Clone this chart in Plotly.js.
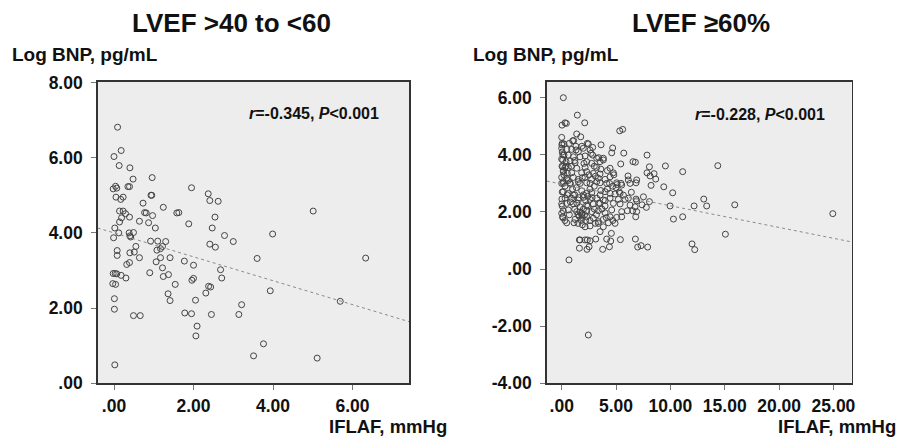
<!DOCTYPE html>
<html>
<head>
<meta charset="utf-8">
<script src="https://cdn.plot.ly/plotly-3.0.1.min.js"></script>
<style>html,body{margin:0;padding:0;background:#fff;}#chart{width:899px;height:442px;}</style>
</head>
<body>
<div id="chart"></div>
<script>
// ---------- DATA ----------
// Left panel: LVEF >40 to <60 — [IFLAF (mmHg), Log BNP (pg/mL)]
const leftPoints = [
  [0.09,6.81],[0.18,6.19],[0.00,6.03],[0.13,5.79],[0.40,5.73],[0.48,5.43],[0.96,5.47],
  [0.04,5.24],[-0.02,5.17],[0.07,5.19],[0.35,5.23],[0.39,5.23],[1.95,5.20],[2.37,5.04],
  [0.93,5.00],[0.95,5.00],[0.05,4.95],[0.23,4.95],[0.17,4.89],[2.41,4.86],[2.62,4.84],
  [0.73,4.79],[0.14,4.58],[0.23,4.58],[0.29,4.51],[0.77,4.54],[0.81,4.53],[1.24,4.68],
  [1.58,4.53],[1.63,4.54],[0.97,4.46],[0.39,4.42],[0.19,4.40],[2.54,4.42],[0.14,4.29],
  [0.64,4.31],[0.87,4.27],[1.88,4.24],[0.02,4.13],[1.04,4.13],[2.47,4.13],[0.12,4.00],
  [0.38,4.00],[0.49,4.01],[0.40,3.92],[0.42,3.89],[-0.01,3.87],[3.99,3.97],[2.78,3.93],
  [3.00,3.77],[0.92,3.78],[1.10,3.78],[1.30,3.77],[2.41,3.70],[2.55,3.62],[1.22,3.64],
  [1.17,3.58],[1.08,3.54],[0.55,3.64],[0.08,3.53],[0.40,3.47],[0.51,3.49],[0.08,3.40],
  [0.64,3.34],[1.17,3.34],[1.41,3.34],[3.60,3.32],[6.33,3.33],[1.06,3.23],[0.39,3.21],
  [0.32,3.16],[1.77,3.25],[2.00,3.14],[1.22,3.07],[2.68,3.02],[-0.02,2.92],[0.03,2.92],
  [0.07,2.91],[0.18,2.87],[0.90,2.94],[1.37,2.89],[1.24,2.84],[0.30,2.80],[2.71,2.80],
  [2.00,2.79],[1.96,2.74],[-0.03,2.65],[0.04,2.63],[1.54,2.63],[2.38,2.58],[2.43,2.56],
  [1.36,2.38],[2.31,2.40],[0.01,2.25],[1.41,2.20],[2.05,2.21],[3.93,2.46],[5.69,2.18],
  [3.21,2.09],[0.01,1.97],[0.49,1.80],[0.66,1.80],[1.78,1.87],[1.95,1.85],[2.45,1.83],
  [3.14,1.83],[2.09,1.52],[2.06,1.26],[3.76,1.05],[3.51,0.73],[5.11,0.67],[0.02,0.49],
  [5.01,4.58]
];

// Right panel: LVEF >=60% — [IFLAF (mmHg), Log BNP (pg/mL)]
const rightPoints = [
  [0.15,6.00],[1.44,5.39],[2.12,5.12],[0.31,5.12],[0.03,5.04],[0.43,5.10],[5.34,4.84],[5.61,4.89],
  [1.38,4.73],[1.75,4.63],[0.00,4.61],[2.36,4.40],[3.62,4.35],[4.69,4.24],[4.60,4.07],[5.71,4.06],
  [7.85,3.99],[6.56,3.76],[6.78,3.74],[5.43,3.68],[8.07,3.58],[9.54,3.61],[14.36,3.62],[11.13,3.41],
  [7.85,3.37],[8.50,3.34],[8.65,3.15],[6.10,3.26],[6.90,3.12],[6.84,3.02],[8.22,2.93],[9.39,2.88],
  [10.21,2.67],[6.41,2.69],[7.52,2.53],[8.07,2.36],[6.84,2.45],[13.07,2.45],[13.34,2.21],[12.18,2.21],
  [9.97,2.21],[15.92,2.25],[7.79,2.16],[7.39,2.25],[6.53,2.04],[6.81,1.83],[11.13,1.83],[10.28,1.75],
  [24.94,1.94],[15.06,1.22],[6.78,1.05],[5.40,1.03],[11.99,0.88],[12.24,0.68],[7.30,0.82],[6.99,0.77],
  [7.91,0.77],[0.67,0.32],[2.45,-2.31],[3.77,0.69],[4.39,0.78],[4.51,0.98],[4.14,1.05],[4.57,1.25],
  [3.13,1.05],[2.36,1.02],[2.33,0.69],[2.52,0.78],[1.63,0.73],[1.63,1.02],
  [1.01,4.49],[2.45,4.38],[0.21,4.38],[0.00,4.23],[0.46,4.19],[0.92,4.19],[1.32,4.17],[1.53,4.11],
  [1.99,4.23],[2.61,4.17],[2.85,4.26],[0.21,3.99],[0.61,3.99],[1.07,3.93],[1.69,3.93],[2.15,3.96],
  [2.85,3.99],[3.22,3.88],[3.83,3.88],[0.09,3.82],[0.40,3.76],[0.77,3.79],[1.23,3.72],[2.30,3.76],
  [2.76,3.70],[3.53,3.76],[3.83,3.82],[0.09,3.58],[0.61,3.56],[1.38,3.53],[2.15,3.56],[3.22,3.56],
  [4.45,3.53],[0.15,3.41],[0.52,3.35],[0.92,3.37],[1.84,3.37],[2.30,3.41],[2.91,3.35],[3.53,3.33],
  [4.75,3.37],[8.13,3.26],[0.00,3.21],[0.46,3.18],[1.07,3.21],[1.53,3.14],[2.15,3.21],[2.76,3.14],
  [3.37,3.18],[3.99,3.14],[4.45,3.23],[5.06,3.02],[5.46,3.00],[6.29,3.00],[0.15,3.00],[0.77,3.02],
  [1.69,3.00],[2.61,3.00],[3.53,3.02],
  [0.15,3.06],[0.80,2.97],[1.53,3.06],[2.30,3.02],[3.22,3.06],[4.14,3.00],[5.10,2.96],[5.52,2.94],
  [6.13,3.12],[0.15,2.71],[0.61,2.65],[1.07,2.59],[1.84,2.74],[2.30,2.65],[2.76,2.67],[3.53,2.59],
  [3.99,2.71],[4.45,2.65],[4.91,2.63],[5.37,2.65],[5.67,2.59],[0.31,2.48],[0.92,2.48],[1.53,2.42],
  [1.99,2.51],[2.61,2.44],[3.22,2.48],[3.83,2.42],[4.45,2.48],[5.21,2.44],[5.83,2.44],[6.13,2.48],
  [6.90,2.39],[0.00,2.28],[0.46,2.30],[1.07,2.28],[1.69,2.18],[2.30,2.24],[2.91,2.28],[3.53,2.30],
  [3.99,2.21],[4.75,2.30],[5.37,2.28],[6.29,2.24],[6.75,2.18],[0.15,2.04],[0.61,2.07],[1.38,2.01],
  [1.84,1.95],[2.30,2.04],[2.76,2.01],[3.37,2.04],[3.99,1.97],[4.60,2.07],[5.52,2.01],[6.04,2.04],
  [6.90,2.01],[0.09,1.83],[0.46,1.62],[1.23,1.74],[1.84,1.89],[2.30,1.83],[2.91,1.78],[3.37,1.66],
  [3.83,1.74],[4.45,1.83],[5.06,1.81],[5.52,1.83],[1.13,1.62],[2.15,1.48],[2.61,1.51],[3.37,1.60],
  [3.83,1.48],[4.29,1.62],[4.91,1.60],[3.53,1.31],[1.69,1.02],[2.15,1.02],[2.61,0.99],
  [1.50,1.90],[1.60,1.85],[1.70,2.00],[1.80,1.70],[1.90,1.80],[2.00,2.10],[2.10,1.90],[1.40,2.30],
  [1.60,2.50],[2.00,2.60],[2.20,2.40],[2.40,2.20],[0.50,2.60],[0.30,2.90],[0.60,3.10],[1.00,2.80],
  [1.20,2.60],[0.80,2.35],[2.60,2.80],[2.80,2.50],[3.00,2.10],[3.20,1.90],[3.40,2.30],[3.70,2.10],
  [4.00,2.40],[4.20,2.80],[4.40,3.00],[0.20,3.30],[0.40,3.60],[0.30,3.55],[0.10,4.00],[0.05,4.40],
  [0.15,3.45],[0.02,4.35],[0.05,4.10],[0.00,3.85],[0.03,3.60],[0.00,3.00],[0.05,2.70],[0.02,2.45],
  [0.05,2.20],[0.00,1.95],[0.10,1.80],[1.10,4.50],[1.30,4.30],[0.70,4.40],[1.85,4.30],[2.05,3.70],
  [2.50,3.30],[3.00,3.60],[3.10,3.25],[2.70,4.05],[3.40,3.90],[3.60,3.50],[4.20,3.45],[4.80,3.30],
  [5.00,2.85],[5.30,2.70],[4.70,2.90],[1.20,3.80],[0.90,3.60],[1.90,3.20],[1.20,2.10],[0.70,1.90],
  [2.60,1.70],[3.10,1.60],[4.10,1.80],[4.70,1.70],[1.50,1.60],[1.90,1.55],[2.20,1.70],[0.30,1.70],
  [2.40,2.55],[3.60,2.75],[3.00,2.90],[1.35,2.85]
];

// Dotted regression lines read at the plot edges
const leftFitX = [-0.41, 7.42];
const leftFitY = [4.13, 1.64];
const rightFitX = [-1.38, 26.68];
const rightFitY = [3.08, 0.95];

// Tick values and labels
const leftXTicks = [0, 2, 4, 6];
const leftXLabels = ['.00', '2.00', '4.00', '6.00'];
const leftYTicks = [0, 2, 4, 6, 8];
const leftYLabels = ['.00', '2.00', '4.00', '6.00', '8.00'];
const rightXTicks = [0, 5, 10, 15, 20, 25];
const rightXLabels = ['.00', '5.00', '10.00', '15.00', '20.00', '25.00'];
const rightYTicks = [-4, -2, 0, 2, 4, 6];
const rightYLabels = ['-4.00', '-2.00', '.00', '2.00', '4.00', '6.00'];

// Texts
const panelTitles = ['LVEF &gt;40 to &lt;60', 'LVEF ≥60%'];
const statTexts = ['<i>r</i>=-0.345, <i>P</i>&lt;0.001', '<i>r</i>=-0.228, <i>P</i>&lt;0.001'];
const yLabel = 'Log BNP, pg/mL';
const xLabel = 'IFLAF, mmHg';

// ---------- CHART ----------
const W = 899, H = 442;
const px = v => v / W;
const py = v => 1 - v / H;
const FONT = 'Liberation Sans, Arial, Helvetica, sans-serif';

const markerStyle = {symbol: 'circle-open', size: 6, color: '#444444', line: {width: 1}};
const fitStyle = {color: '#8a8a8a', width: 1, dash: 'dot'};

const traces = [
  {x: leftPoints.map(p => p[0]), y: leftPoints.map(p => p[1]), type: 'scatter', mode: 'markers',
   marker: markerStyle, xaxis: 'x', yaxis: 'y', hoverinfo: 'skip'},
  {x: leftFitX, y: leftFitY, type: 'scatter', mode: 'lines', line: fitStyle, xaxis: 'x', yaxis: 'y', hoverinfo: 'skip'},
  {x: rightPoints.map(p => p[0]), y: rightPoints.map(p => p[1]), type: 'scatter', mode: 'markers',
   marker: markerStyle, xaxis: 'x2', yaxis: 'y2', hoverinfo: 'skip'},
  {x: rightFitX, y: rightFitY, type: 'scatter', mode: 'lines', line: fitStyle, xaxis: 'x2', yaxis: 'y2', hoverinfo: 'skip'}
];

const axisCommon = {
  showgrid: false, zeroline: false, showline: true, mirror: true,
  linecolor: '#333', linewidth: 1.5,
  ticks: 'outside', ticklen: 5, tickcolor: '#777', tickwidth: 1,
  tickmode: 'array',
  tickfont: {family: FONT, size: 17.5, color: '#111', weight: 'bold'}
};

const yDomain = [py(383.3), py(81.7)];

const layout = {
  width: W, height: H,
  margin: {l: 0, r: 0, t: 0, b: 0},
  paper_bgcolor: '#ffffff',
  plot_bgcolor: '#ededed',
  showlegend: false,
  xaxis: Object.assign({}, axisCommon, {domain: [px(97.7), px(409)], range: [-0.41, 7.42],
    tickvals: leftXTicks, ticktext: leftXLabels, anchor: 'y', ticklabelstandoff: 1}),
  yaxis: Object.assign({}, axisCommon, {domain: yDomain, range: [0, 8.02],
    tickvals: leftYTicks, ticktext: leftYLabels, anchor: 'x', ticklabelstandoff: 5}),
  xaxis2: Object.assign({}, axisCommon, {domain: [px(546.7), px(851.7)], range: [-1.38, 26.68],
    tickvals: rightXTicks, ticktext: rightXLabels, anchor: 'y2', ticklabelstandoff: 1}),
  yaxis2: Object.assign({}, axisCommon, {domain: yDomain, range: [-4, 6.56],
    tickvals: rightYTicks, ticktext: rightYLabels, anchor: 'x2', ticklabelstandoff: 5}),
  annotations: [
    {text: panelTitles[0], x: px(231.5), y: py(23), xref: 'paper', yref: 'paper', xanchor: 'center', yanchor: 'middle',
     showarrow: false, font: {family: FONT, size: 26, color: '#111', weight: 'bold'}},
    {text: panelTitles[1], x: px(701), y: py(23), xref: 'paper', yref: 'paper', xanchor: 'center', yanchor: 'middle',
     showarrow: false, font: {family: FONT, size: 26, color: '#111', weight: 'bold'}},
    {text: yLabel, x: px(10), y: py(54), xref: 'paper', yref: 'paper', xanchor: 'left', yanchor: 'middle',
     showarrow: false, font: {family: FONT, size: 19, color: '#111', weight: 'bold'}},
    {text: yLabel, x: px(470.7), y: py(54), xref: 'paper', yref: 'paper', xanchor: 'left', yanchor: 'middle',
     showarrow: false, font: {family: FONT, size: 19, color: '#111', weight: 'bold'}},
    {text: xLabel, x: px(449), y: py(426), xref: 'paper', yref: 'paper', xanchor: 'right', yanchor: 'middle',
     showarrow: false, font: {family: FONT, size: 18.5, color: '#111', weight: 'bold'}},
    {text: xLabel, x: px(898), y: py(426), xref: 'paper', yref: 'paper', xanchor: 'right', yanchor: 'middle',
     showarrow: false, font: {family: FONT, size: 18.5, color: '#111', weight: 'bold'}},
    {text: statTexts[0], x: px(247), y: py(114), xref: 'paper', yref: 'paper', xanchor: 'left', yanchor: 'middle',
     showarrow: false, font: {family: FONT, size: 16, color: '#111', weight: 'bold'}},
    {text: statTexts[1], x: px(693), y: py(115), xref: 'paper', yref: 'paper', xanchor: 'left', yanchor: 'middle',
     showarrow: false, font: {family: FONT, size: 16, color: '#111', weight: 'bold'}}
  ]
};

Plotly.newPlot('chart', traces, layout, {staticPlot: true, displayModeBar: false});
</script>
</body>
</html>
